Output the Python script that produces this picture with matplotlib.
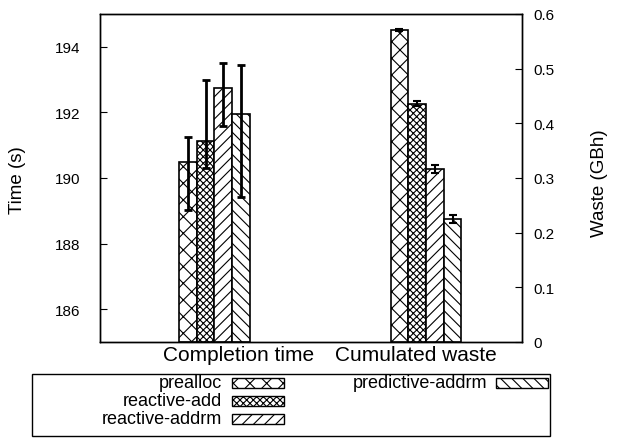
import numpy as np
import matplotlib
matplotlib.use("Agg")
import matplotlib.pyplot as plt
from matplotlib.patches import Rectangle

plt.rcParams['font.family'] = ['Liberation Sans', 'DejaVu Sans']
plt.rcParams['hatch.linewidth'] = 0.8

# data
series = ["prealloc", "reactive-add", "reactive-addrm", "predictive-addrm"]
hatches = ["xx", "xxxxx", "///", "\\\\\\"]
groups = ["Completion time", "Cumulated waste"]

time_mean = [190.49, 191.14, 192.74, 191.95]
time_low = [189.01, 190.29, 191.59, 189.41]
time_high = [191.26, 192.99, 193.50, 193.43]

waste_mean = [0.571, 0.436, 0.317, 0.225]
waste_err = [0.002, 0.004, 0.007, 0.007]

time_ticks = [186, 188, 190, 192, 194]
waste_ticks = [0, 0.1, 0.2, 0.3, 0.4, 0.5, 0.6]
waste_ticklabels = ["0", "0.1", "0.2", "0.3", "0.4", "0.5", "0.6"]

W, H = 622, 439
fig = plt.figure(figsize=(W / 100, H / 100), dpi=100)
ax = fig.add_axes([100 / W, (H - 343) / H, 422 / W, 328 / H])
ax2 = ax.twinx()

w = 0.0837
offs = (np.arange(4) - 1.5) * w
for i in range(4):
    m = time_mean[i]
    err = [[m - time_low[i]], [time_high[i] - m]]
    ax.bar(0 + offs[i], m - 185, w, bottom=185, facecolor="white",
           edgecolor="black", hatch=hatches[i], linewidth=1.2, zorder=2)
    ax.errorbar(0 + offs[i], m, yerr=err, fmt="none", ecolor="black",
                elinewidth=2, capsize=3, capthick=2, zorder=3)
    ax2.bar(1 + offs[i], waste_mean[i], w, facecolor="white",
            edgecolor="black", hatch=hatches[i], linewidth=1.2, zorder=2)
    ax2.errorbar(1 + offs[i], waste_mean[i], yerr=waste_err[i], fmt="none",
                 ecolor="black", elinewidth=1.5, capsize=3, capthick=1.5, zorder=3)

ax.set_xlim(-0.541, 1.454)
ax.set_ylim(185, 195)
ax2.set_ylim(0, 0.6)
ax.set_yticks(time_ticks)
ax2.set_yticks(waste_ticks, waste_ticklabels)
# gnuplot puts the category labels a bit inside the clusters
ax.set_xticks([0.115, 0.95], groups)
ax.tick_params(axis="x", length=0, labelsize=15, pad=2)
ax.tick_params(axis="y", direction="in", length=5, labelsize=11, pad=14)
ax2.tick_params(axis="y", direction="in", length=5, labelsize=11, pad=8)
for a in (ax, ax2):
    for s in a.spines.values():
        s.set_linewidth(1.0)

fig.text(18 / W, 1 - 180 / H, "Time (s)", rotation=90, ha="center", va="center", fontsize=13.5)
fig.text(600 / W, 1 - 183 / H, "Waste (GBh)", rotation=90, ha="center", va="center", fontsize=13.5)

# legend box: three entries in the first column, one in the second
fig.patches.append(Rectangle((32 / W, 2 / H), 518 / W, 373 / H * 0 + 62 / H,
                             transform=fig.transFigure, fill=False,
                             edgecolor="black", linewidth=1.0))
cols = [(222, 232), (487, 496)]
rows = [384, 402, 420]
for i, name in enumerate(series):
    c = 0 if i < 3 else 1
    r = i if i < 3 else 0
    tx, sx = cols[c]
    y = rows[r]
    fig.text(tx / W, 1 - y / H, name, ha="right", va="center", fontsize=13)
    fig.patches.append(Rectangle((sx / W, 1 - (y + 5) / H), 52 / W, 10 / H,
                                 transform=fig.transFigure, facecolor="white",
                                 edgecolor="black", hatch=hatches[i], linewidth=1.0))

fig.savefig("out.png", dpi=100)
